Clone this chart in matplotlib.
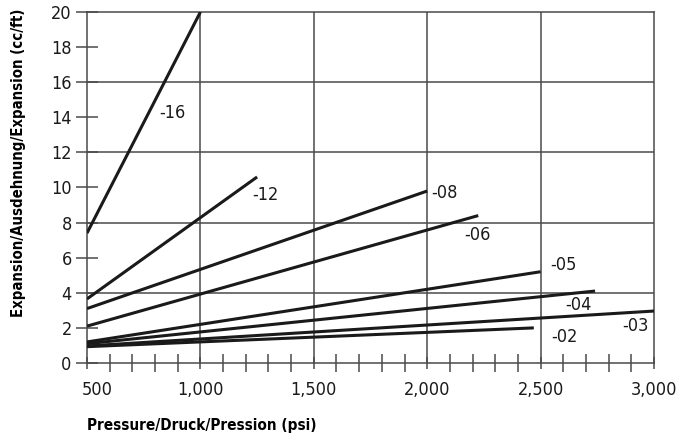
import matplotlib
matplotlib.use('Agg')
import matplotlib.pyplot as plt
from matplotlib.ticker import FixedLocator
from matplotlib.transforms import ScaledTranslation

plt.rcParams['font.family'] = ['DejaVu Sans']
plt.rcParams['font.stretch'] = 'condensed'

# hose sizes and their expansion lines (start / end points)
sizes = ['-16', '-12', '-08', '-06', '-05', '-04', '-03', '-02']
p_start = [500, 500, 500, 500, 500, 500, 500, 500]
p_end = [1000, 1250, 2000, 2225, 2500, 2740, 3000, 2470]
e_start = [7.4, 3.65, 3.1, 2.1, 1.2, 1.1, 0.97, 0.93]
e_end = [20.0, 10.6, 9.8, 8.4, 5.2, 4.1, 2.96, 2.0]

# where the size labels sit
label_p = [875, 1285, 2078, 2220, 2599, 2665, 2916, 2603]
label_e = [14.25, 9.57, 9.69, 7.29, 5.58, 3.30, 2.11, 1.48]

x_ticks = [500, 1000, 1500, 2000, 2500, 3000]
x_ticklabels = ['500', '1,000', '1,500', '2,000', '2,500', '3,000']
y_ticks = [0, 2, 4, 6, 8, 10, 12, 14, 16, 18, 20]
x_grid = [1000, 1500, 2000, 2500]
y_grid = [4, 8, 12, 16]

grid_color = '#4a4a4a'

fig = plt.figure(figsize=(6.91, 4.41), dpi=100)
ax = fig.add_axes([0.1259, 0.1769, 0.8206, 0.7959])

for xg in x_grid:
    ax.axvline(xg, color=grid_color, lw=1.1, zorder=1)
for yg in y_grid:
    ax.axhline(yg, color=grid_color, lw=1.1, zorder=1)

for i in range(len(sizes)):
    ax.plot([p_start[i], p_end[i]], [e_start[i], e_end[i]],
            color='#1a1a1a', lw=2.2, solid_capstyle='butt', zorder=3)
    ax.text(label_p[i], label_e[i], sizes[i], fontsize=13,
            ha='center', va='center', color='#1a1a1a', zorder=4)

ax.set_xlim(500, 3000)
ax.set_ylim(0, 20)

ax.set_xticks(x_ticks)
ax.set_xticklabels(x_ticklabels)
minor = [v for v in range(600, 3000, 100) if v % 500 != 0]
ax.xaxis.set_minor_locator(FixedLocator(minor))
ax.set_yticks(y_ticks)

for s in ax.spines.values():
    s.set_color(grid_color)
    s.set_linewidth(1.1)

ax.tick_params(axis='x', which='major', direction='inout', length=8,
               width=1.1, color=grid_color, pad=9, labelsize=13,
               labelcolor='#1a1a1a')
ax.tick_params(axis='x', which='minor', direction='inout', length=13,
               width=1.1, color=grid_color)
ax.tick_params(axis='y', which='major', direction='inout', length=16,
               width=1.1, color=grid_color, pad=3, labelsize=13,
               labelcolor='#1a1a1a')

# the "500" label sits a little right of the axis corner
first = ax.get_xticklabels()[0]
first.set_transform(first.get_transform() +
                    ScaledTranslation(10 / 100, 0, fig.dpi_scale_trans))

ax.set_xlabel('Pressure/Druck/Pression (psi)', fontsize=11,
              fontweight='bold', loc='left', labelpad=14)
ax.set_ylabel('Expansion/Ausdehnung/Expansion (cc/ft)', fontsize=10.7,
              fontweight='bold')
ax.yaxis.set_label_coords(-0.108, 0.57)

fig.savefig('out.png', dpi=100)
